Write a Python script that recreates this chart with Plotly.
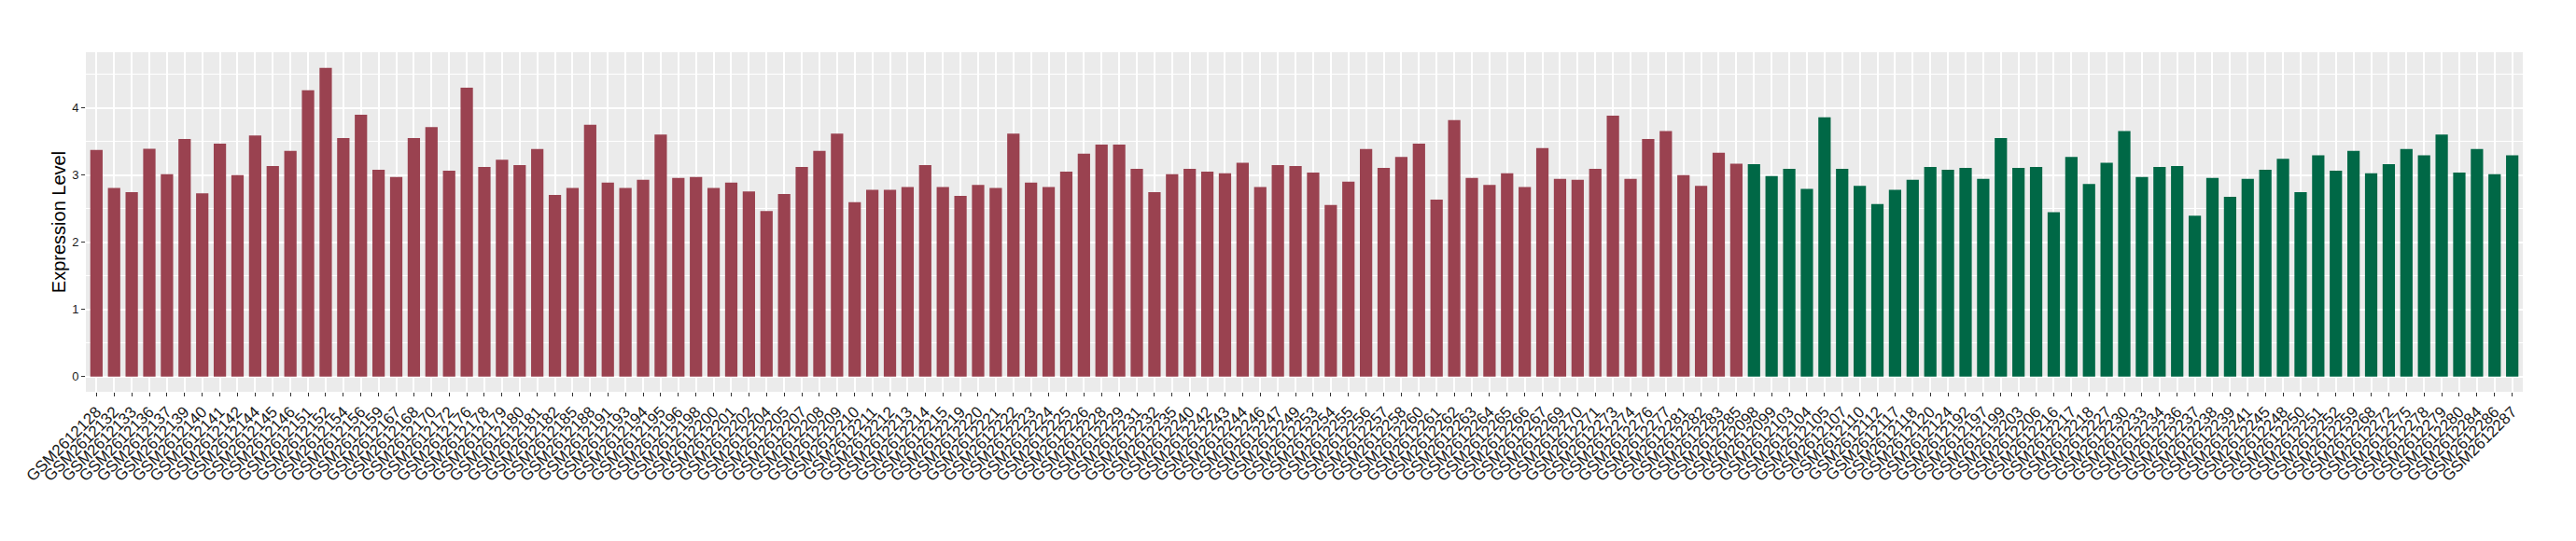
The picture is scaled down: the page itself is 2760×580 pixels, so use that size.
import plotly.graph_objects as go

red_ids = [128,132,133,136,137,139,140,141,142,
           144,145,146,151,152,154,156,159,167,168,170,
           172,176,178,179,180,181,182,185,188,191,193,194,
           195,196,198,200,201,202,204,205,207,208,209,210,
           211,212,213,214,215,219,220,221,222,223,224,225,
           226,228,229,231,232,235,240,242,243,244,246,
           247,249,253,254,255,256,257,258,260,261,262,263,
           264,265,266,267,269,270,271,273,274,276,277,
           281,282,283,285]
red_vals = [3.375,2.81,2.745,3.39,3.014,3.537,2.73,3.468,3.0,
            3.588,3.134,3.361,4.264,4.597,3.551,3.898,3.079,2.972,3.551,3.713,
            3.065,4.301,3.12,3.227,3.148,3.389,2.704,2.81,3.75,2.889,2.81,2.93,
            3.602,2.958,2.972,2.81,2.889,2.755,2.463,2.718,3.12,3.361,3.616,2.597,
            2.782,2.782,2.824,3.148,2.824,2.69,2.852,2.81,3.616,2.889,2.824,3.051,
            3.319,3.454,3.454,3.093,2.745,3.014,3.093,3.051,3.028,3.185,2.824,
            3.148,3.134,3.037,2.556,2.903,3.389,3.106,3.269,3.468,2.634,3.819,2.958,
            2.852,3.028,2.824,3.403,2.944,2.93,3.093,3.884,2.944,3.537,3.657,
            3.0,2.838,3.333,3.171]

green_ids = ["098","099","103","104","105","107","110","112",
             "117","118","120","124","192","197","199","203","206","216","217","218",
             "227","230","233","234","236","237","238","239","241","245","248",
             "250","251","252","259","268","272","275","278","279","280","284","286","287"]
green_vals = [3.162,2.986,3.093,2.796,3.861,3.093,2.838,2.569,
              2.782,2.93,3.12,3.079,3.106,2.944,3.551,3.106,3.12,2.449,3.269,2.866,
              3.185,3.657,2.972,3.12,3.134,2.394,2.958,2.676,2.944,3.079,3.241,
              2.745,3.296,3.065,3.361,3.028,3.162,3.389,3.296,3.602,3.037,3.389,3.014,3.296]

red_labels = ["GSM2612%d" % i for i in red_ids]
green_labels = ["GSM2612" + s for s in green_ids]
labels = red_labels + green_labels
values = red_vals + green_vals
groups = ["A"] * len(red_labels) + ["B"] * len(green_labels)

RED = "#9A4250"
GREEN = "#006846"
colors = [RED if g == "A" else GREEN for g in groups]

fig = go.Figure()
fig.add_trace(go.Bar(x=labels, y=values, marker=dict(color=colors, line=dict(width=0)),
                     width=0.7, showlegend=False))

n = len(labels)
TXT = "#1A1A1A"
# the page body has an 8px default margin, so the figure is sized/offset to compensate
fig.update_layout(
    width=2744, height=564,
    margin=dict(l=84, r=49, t=48, b=152),
    paper_bgcolor="white", plot_bgcolor="#EBEBEB",
    font=dict(family="Liberation Sans, Arial, sans-serif", color=TXT),
)
fig.update_xaxes(
    type="category", categoryorder="array", categoryarray=labels,
    tickmode="array", tickvals=labels, ticktext=labels,
    range=[-0.6, n - 1 + 0.6],
    tickangle=-45, tickfont=dict(size=17, color=TXT),
    ticks="outside", ticklen=4, tickcolor="#333333", tickwidth=1,
    showgrid=True, gridcolor="white", gridwidth=1.5,
    zeroline=False, showline=False, automargin=False,
)
fig.update_yaxes(
    range=[-0.226, 4.829],
    tickvals=[0, 1, 2, 3, 4], ticktext=["0", "1", "2", "3", "4"],
    tickfont=dict(size=13, color=TXT),
    ticks="outside", ticklen=4, tickcolor="#333333", tickwidth=1,
    showgrid=True, gridcolor="white", gridwidth=1.5,
    minor=dict(tickvals=[0.5, 1.5, 2.5, 3.5, 4.5], showgrid=True, gridcolor="white", gridwidth=0.7, ticks=""),
    zeroline=False, showline=False, automargin=False,
    title=dict(text="Expression Level", font=dict(size=20, color="black"), standoff=1),
)
fig.write_html("out.html")
